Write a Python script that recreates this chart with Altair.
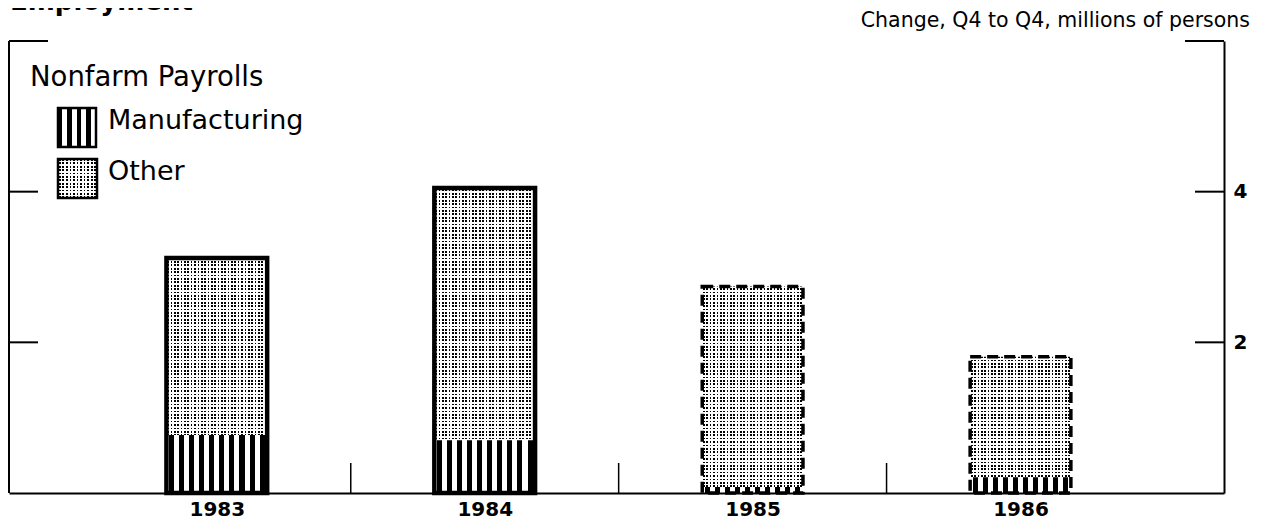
import altair as alt
import pandas as pd

# ---- data ----
years = [1983, 1984, 1985, 1986]
manufacturing = [0.77, 0.70, 0.08, 0.21]   # millions, change Q4 to Q4
total = [3.12, 4.05, 2.74, 1.81]           # nonfarm payrolls total
projected = [False, False, True, True]
y_tick_values = [2, 4]

title_text = "Employment"
subtitle_text = "Change, Q4 to Q4, millions of persons"
legend_title = "Nonfarm Payrolls"
legend_items = ["Manufacturing", "Other"]

df = pd.DataFrame({"year": years, "mfg": manufacturing, "total": total,
                   "projected": projected})
tick_df = pd.DataFrame({"v": y_tick_values})
dummy = pd.DataFrame({"d": [0]})

W, H = 1215, 452
FONT = "DejaVu Sans"
HALF = 0.188

xscale = alt.Scale(domain=[1982.2243, 1986.7596], nice=False, zero=False)
yscale = alt.Scale(domain=[0, 6], nice=False, zero=False)

xaxis = alt.Axis(values=years, format="d", tickSize=0, labelFontSize=20,
                 labelFont=FONT, labelFontWeight="bold", labelColor="black",
                 labelPadding=6, domainColor="black", domainWidth=2,
                 grid=False, title=None, zindex=1, labelFlush=False)
yaxis = alt.Axis(orient="right", values=y_tick_values, tickSize=0,
                 labelFontSize=20, labelFont=FONT, labelFontWeight="bold",
                 labelColor="black", labelPadding=9, domainColor="black",
                 domainWidth=2, grid=False, title=None, zindex=1)


def stripes(n, on_frac, on, off, vertical_bands=True, lead_on=False):
    stops = []
    for i in range(n):
        a = i / n
        b = (i + 1) / n
        if lead_on:
            m = (i + on_frac) / n
            seq = [(a, on), (m, on), (m, off), (b, off)]
        else:
            g = (1 - on_frac) / 2
            s1 = (i + g) / n
            s2 = (i + g + on_frac) / n
            seq = [(a, off), (s1, off), (s1, on), (s2, on), (s2, off), (b, off)]
        stops += seq
    return {
        "gradient": "linear",
        "x1": 0, "y1": 0,
        "x2": 1 if vertical_bands else 0,
        "y2": 0 if vertical_bands else 1,
        "stops": [{"offset": round(min(max(o, 0), 1), 5), "color": c} for o, c in stops],
    }


DOT_LINES_BAR = stripes(30, 0.5, "black", "white")
DOT_LINES_ICON = stripes(11, 0.5, "black", "white")
DOT_MASK = stripes(133, 0.5, "white", "rgba(255,255,255,0)", vertical_bands=False)
MFG_STRIPES = stripes(10, 0.5, "black", "white")
MFG_ICON = stripes(4, 0.45, "black", "white", lead_on=True)

base = alt.Chart(df).transform_calculate(
    x0=f"datum.year - {HALF}", x1=f"datum.year + {HALF}", z="0"
)

X0 = alt.X("x0:Q", scale=xscale, axis=xaxis)

other_fill = base.mark_rect(fill=DOT_LINES_BAR).encode(
    x=X0, x2="x1:Q",
    y=alt.Y("mfg:Q", scale=yscale, axis=yaxis), y2="total:Q",
)

other_icon_fill = alt.Chart(dummy).mark_rect(fill=DOT_LINES_ICON).encode(
    x=alt.value(49), x2=alt.value(88), y=alt.value(118), y2=alt.value(157)
)

dot_mask = alt.Chart(dummy).mark_rect(fill=DOT_MASK).encode(
    x=alt.value(0), x2=alt.value(W), y=alt.value(0), y2=alt.value(H)
)

mfg_fill = base.mark_rect(fill=MFG_STRIPES).encode(
    x=X0, x2="x1:Q",
    y=alt.Y("mfg:Q", scale=yscale, axis=yaxis), y2="z:Q",
)

mfg_icon = alt.Chart(dummy).mark_rect(fill=MFG_ICON, stroke="black",
                                      strokeWidth=2.5).encode(
    x=alt.value(49), x2=alt.value(87), y=alt.value(67), y2=alt.value(106)
)
other_icon_border = alt.Chart(dummy).mark_rect(fill="white", fillOpacity=0,
                                               stroke="black",
                                               strokeWidth=2.5).encode(
    x=alt.value(49), x2=alt.value(88), y=alt.value(118), y2=alt.value(157)
)

solid_border = base.transform_filter("!datum.projected").mark_rect(
    fill="white", fillOpacity=0, stroke="black", strokeWidth=4.5
).encode(x=X0, x2="x1:Q", y=alt.Y("total:Q", scale=yscale, axis=yaxis), y2="z:Q")

dashed_border = base.transform_filter("datum.projected").mark_rect(
    fill="white", fillOpacity=0, stroke="black", strokeWidth=3.5,
    strokeDash=[11, 6]
).encode(x=X0, x2="x1:Q", y=alt.Y("total:Q", scale=yscale, axis=yaxis), y2="z:Q")

left_ticks = alt.Chart(tick_df).mark_rule(color="black", strokeWidth=2).encode(
    y=alt.Y("v:Q", scale=yscale, axis=yaxis), x=alt.value(0), x2=alt.value(29)
)
right_ticks = alt.Chart(tick_df).mark_rule(color="black", strokeWidth=2).encode(
    y=alt.Y("v:Q", scale=yscale, axis=yaxis), x=alt.value(W - 29), x2=alt.value(W)
)

boundaries = alt.Chart(df).transform_filter(
    f"datum.year < {max(years)}"
).transform_calculate(b="datum.year + 0.5").mark_rule(
    color="black", strokeWidth=1.5
).encode(
    x=alt.X("b:Q", scale=xscale, axis=xaxis), y=alt.value(H), y2=alt.value(H - 30)
)

left_frame = alt.Chart(dummy).mark_rule(color="black", strokeWidth=2).encode(
    x=alt.value(0), y=alt.value(0), y2=alt.value(H)
)
top_left = alt.Chart(dummy).mark_rule(color="black", strokeWidth=2).encode(
    x=alt.value(0), x2=alt.value(39), y=alt.value(0)
)
top_right = alt.Chart(dummy).mark_rule(color="black", strokeWidth=2).encode(
    x=alt.value(W - 39), x2=alt.value(W), y=alt.value(0)
)


def label(text, x, y, size, align="left", weight="normal"):
    return alt.Chart(dummy).mark_text(
        text=text, align=align, baseline="alphabetic", font=FONT,
        fontSize=size, fontWeight=weight, color="black"
    ).encode(x=alt.value(x), y=alt.value(y))


texts = [
    label(title_text, 1, -31, 26, weight="bold"),
    label(subtitle_text, 1241, -14, 20.5, align="right"),
    label(legend_title, 21, 45, 27.5),
    label(legend_items[0], 99, 88, 27),
    label(legend_items[1], 99, 139, 27),
]

chart = alt.layer(
    other_fill, other_icon_fill, dot_mask, mfg_fill, mfg_icon,
    other_icon_border, solid_border, dashed_border, left_ticks, right_ticks,
    boundaries, left_frame, top_left, top_right, *texts
).properties(
    width=W, height=H,
    autosize=alt.AutoSizeParams(type="none"),
    padding={"left": 1, "top": 33, "right": 34, "bottom": 36},
    background="white",
).configure_view(stroke=None)

chart.save("out.html", embed_options={"renderer": "svg", "actions": False})
